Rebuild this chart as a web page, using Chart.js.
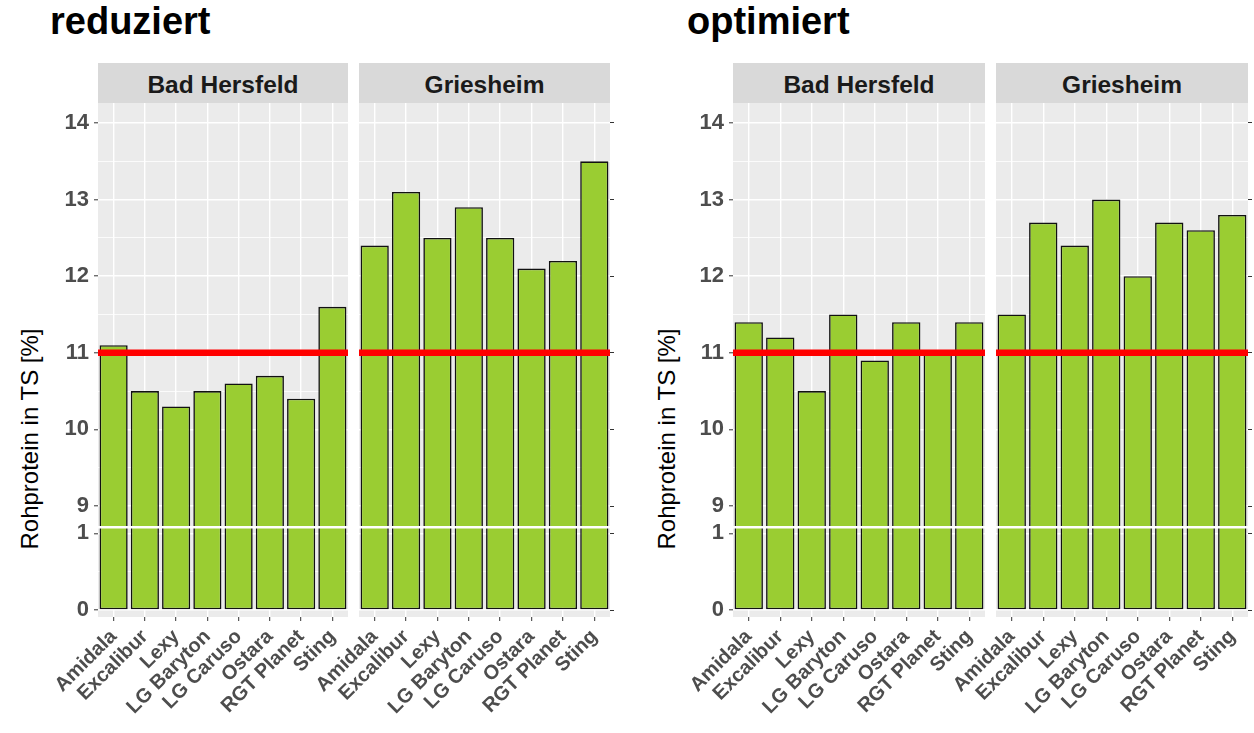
<!DOCTYPE html>
<html>
<head>
<meta charset="utf-8">
<script src="https://cdn.jsdelivr.net/npm/chart.js@4.4.1/dist/chart.umd.min.js"></script>
<style>
  body { margin: 0; background: #fff; font-family: "Liberation Sans", Arial, sans-serif; }
  #page { position: relative; width: 1254px; height: 733px; overflow: hidden; background: #fff; }
  .title { position: absolute; top: 0px; font-size: 38px; font-weight: bold; color: #000; }
  .ytitle { position: absolute; width: 300px; text-align: center; font-size: 24px; color: #000;
            transform: rotate(-90deg); transform-origin: center center; white-space: nowrap; }
  .strip { position: absolute; top: 63px; height: 40px; background: #D9D9D9; color: #1A1A1A;
           font-size: 24.5px; font-weight: bold; text-align: center; line-height: 44px; }
  .facet { position: absolute; }
</style>
</head>
<body>
<div id="page"></div>
<script>
// ---- data ----
const varieties = ['Amidala', 'Excalibur', 'Lexy', 'LG Baryton', 'LG Caruso', 'Ostara', 'RGT Planet', 'Sting'];
const sites = ['Bad Hersfeld', 'Griesheim'];
const treatments = ['reduziert', 'optimiert'];

const reduziertBadHersfeld = [11.1, 10.5, 10.3, 10.5, 10.6, 10.7, 10.4, 11.6];
const reduziertGriesheim   = [12.4, 13.1, 12.5, 12.9, 12.5, 12.1, 12.2, 13.5];
const optimiertBadHersfeld = [11.4, 11.2, 10.5, 11.5, 10.9, 11.4, 11.0, 11.4];
const optimiertGriesheim   = [11.5, 12.7, 12.4, 13.0, 12.0, 12.7, 12.6, 12.8];

const yTickValues  = [0, 1, 9, 10, 11, 12, 13, 14];
const yMinorValues = [0.5, 9.5, 10.5, 11.5, 12.5, 13.5];
const threshold = 11;          // red reference line
const breakFrom = 1, breakTo = 9;

const yTitle = 'Rohprotein in TS [%]';

// broken axis: values between breakFrom and breakTo are collapsed into a small gap
const breakGap = 0.358;
function toAxis(v) {
  return v <= breakFrom ? v : v - breakTo + breakFrom + breakGap;
}
const yMin = -0.091;
const yMax = toAxis(14) + 0.261;
const breakLine = breakFrom + 0.08;

const green = '#9ACD32';
const tickGrey = '#4D4D4D';

// ---- layout ----
const page = document.getElementById('page');
const panelTop = 103, panelH = 514;
const chartLefts = [50, 687];
const panels = [
  [[98, 348], [359, 610]],
  [[733, 985], [996, 1248]]
];
const seriesFor = [
  [reduziertBadHersfeld, reduziertGriesheim],
  [optimiertBadHersfeld, optimiertGriesheim]
];

function addDiv(cls, text, style) {
  const d = document.createElement('div');
  d.className = cls;
  d.textContent = text;
  Object.assign(d.style, style);
  page.appendChild(d);
  return d;
}

const panelBg = {
  id: 'panelBg',
  beforeDraw(chart) {
    const a = chart.chartArea, ctx = chart.ctx;
    ctx.save();
    ctx.fillStyle = '#EBEBEB';
    ctx.fillRect(a.left, a.top, a.right - a.left, a.bottom - a.top);
    ctx.restore();
  }
};

const refLines = {
  id: 'refLines',
  afterDatasetsDraw(chart) {
    const a = chart.chartArea, ctx = chart.ctx, y = chart.scales.y;
    ctx.save();
    // axis break
    let py = y.getPixelForValue(breakLine);
    ctx.strokeStyle = '#FFFFFF';
    ctx.lineWidth = 2.5;
    ctx.beginPath(); ctx.moveTo(a.left, py); ctx.lineTo(a.right, py); ctx.stroke();
    // threshold
    py = y.getPixelForValue(toAxis(threshold));
    ctx.strokeStyle = '#FF0000';
    ctx.lineWidth = 6.5;
    ctx.beginPath(); ctx.moveTo(a.left, py); ctx.lineTo(a.right, py); ctx.stroke();
    ctx.restore();
  }
};

function buildYTicks(scale, withMinor) {
  const t = yTickValues.map(v => ({ value: toAxis(v), orig: String(v), minor: false }));
  if (withMinor) yMinorValues.forEach(v => t.push({ value: toAxis(v), orig: '', minor: true }));
  scale.ticks = t;
}

function makeFacet(values, left, right, showLabels, rightTicks) {
  const padTop = 20, axisW = 66, rightW = 8;
  const w = axisW + (right - left) + rightW;
  const h = padTop + panelH + 116;
  const wrap = document.createElement('div');
  wrap.className = 'facet';
  Object.assign(wrap.style, { left: (left - axisW) + 'px', top: (panelTop - padTop) + 'px', width: w + 'px', height: h + 'px' });
  const cv = document.createElement('canvas');
  cv.width = w; cv.height = h;
  wrap.appendChild(cv);
  page.appendChild(wrap);

  const scales = {
    x: {
      type: 'category',
      offset: true,
      grid: {
        offset: false, color: '#FFFFFF', lineWidth: 1.4,
        drawTicks: true, tickLength: 4, tickColor: '#333333', tickWidth: 1
      },
      border: { display: false },
      ticks: {
        autoSkip: false, minRotation: 45, maxRotation: 45, padding: 4,
        color: tickGrey, font: { family: 'Liberation Sans', size: 20, weight: 'bold' }
      },
      afterFit(s) { s.height = 116; }
    },
    y: {
      type: 'linear',
      position: 'left',
      min: yMin, max: yMax,
      afterBuildTicks(s) { buildYTicks(s, true); },
      grid: {
        color: '#FFFFFF',
        lineWidth: c => (c.tick && c.tick.minor ? 0.8 : 1.6),
        drawTicks: showLabels, tickLength: 4, tickWidth: 1,
        tickColor: c => (c.tick && c.tick.minor ? 'rgba(0,0,0,0)' : '#333333')
      },
      border: { display: false },
      ticks: {
        display: showLabels, autoSkip: false, padding: 5,
        color: tickGrey, font: { family: 'Liberation Sans', size: 22, weight: 'bold' },
        callback: (val, i, ticks) => ticks[i].orig
      },
      afterFit(s) { s.width = axisW; }
    }
  };
  if (rightTicks) {
    scales.y2 = {
      type: 'linear',
      position: 'right',
      min: yMin, max: yMax,
      afterBuildTicks(s) { buildYTicks(s, false); },
      grid: { drawOnChartArea: false, drawTicks: true, tickLength: 4, tickWidth: 1, color: '#333333' },
      border: { display: false },
      ticks: { display: false },
      afterFit(s) { s.width = rightW; }
    };
  }

  new Chart(cv, {
    type: 'bar',
    data: {
      labels: varieties,
      datasets: [{
        data: values.map(toAxis),
        backgroundColor: green,
        borderColor: '#111111',
        borderWidth: 1.6,
        borderSkipped: false,
        barPercentage: 0.9,
        categoryPercentage: 1.0
      }]
    },
    options: {
      responsive: false,
      animation: false,
      layout: { padding: { top: padTop, right: rightTicks ? 0 : rightW, left: 0, bottom: 0 } },
      plugins: { legend: { display: false }, tooltip: { enabled: false } },
      scales: scales
    },
    plugins: [panelBg, refLines]
  });
}

treatments.forEach((name, ti) => {
  addDiv('title', name, { left: chartLefts[ti] + 'px' });
  addDiv('ytitle', yTitle, { left: (chartLefts[ti] - 20 - 150) + 'px', top: (440 - 15) + 'px' });
  sites.forEach((site, si) => {
    const [l, r] = panels[ti][si];
    addDiv('strip', site, { left: l + 'px', width: (r - l) + 'px' });
    makeFacet(seriesFor[ti][si], l, r, si === 0, si === 1);
  });
});
</script>
</body>
</html>
